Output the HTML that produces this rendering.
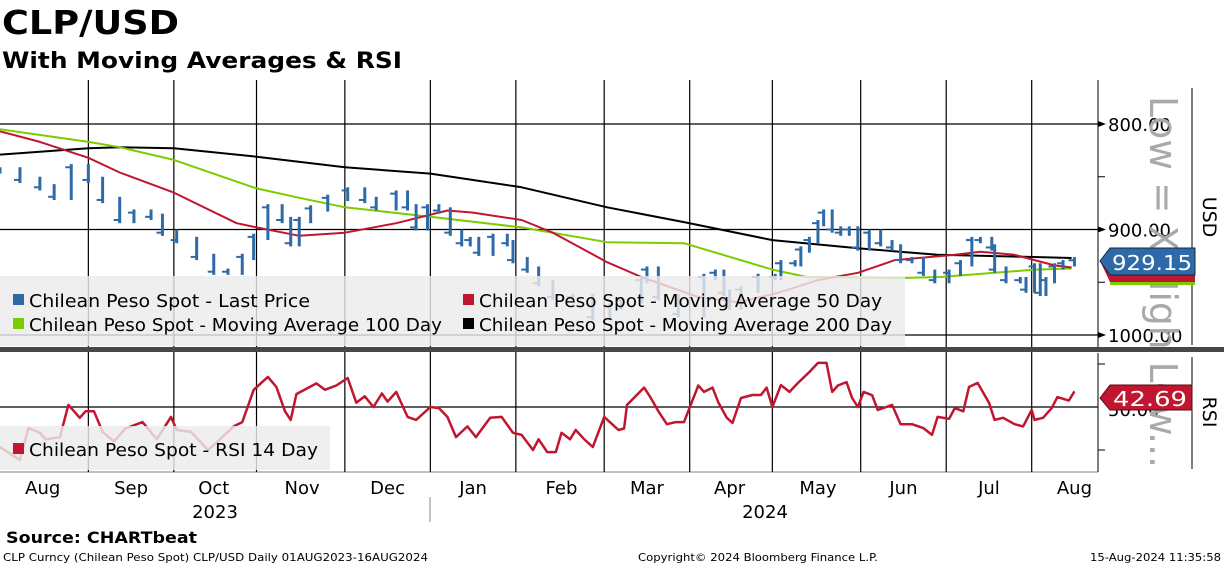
<!DOCTYPE html>
<html><head><meta charset="utf-8"><style>
html,body{margin:0;padding:0;background:#fff;}
svg{display:block;font-family:"DejaVu Sans","Liberation Sans",sans-serif;}
</style></head><body>
<svg id="chart" width="1224" height="566" viewBox="0 0 1224 566">
<text x="2" y="34" font-size="33" font-weight="bold" textLength="177" lengthAdjust="spacingAndGlyphs">CLP/USD</text>
<text x="2" y="68" font-size="22" font-weight="bold" textLength="400" lengthAdjust="spacingAndGlyphs">With Moving Averages &amp; RSI</text>
<g id="grid"></g>
<g id="series"></g>
<g id="legends">
<rect x="0" y="276" width="905" height="70" fill="rgba(236,236,236,0.82)"/>
<rect x="13" y="294" width="11" height="11" fill="#2e6aa8"/>
<text x="29" y="307" font-size="18" textLength="281" lengthAdjust="spacingAndGlyphs">Chilean Peso Spot - Last Price</text>
<rect x="463" y="294" width="11" height="11" fill="#c0162f"/>
<text x="479" y="307" font-size="18" textLength="403" lengthAdjust="spacingAndGlyphs">Chilean Peso Spot - Moving Average 50 Day</text>
<rect x="13" y="318" width="11" height="11" fill="#7ccc00"/>
<text x="29" y="331" font-size="18" textLength="413" lengthAdjust="spacingAndGlyphs">Chilean Peso Spot - Moving Average 100 Day</text>
<rect x="463" y="318" width="11" height="11" fill="#000"/>
<text x="479" y="331" font-size="18" textLength="413" lengthAdjust="spacingAndGlyphs">Chilean Peso Spot - Moving Average 200 Day</text>
<rect x="0" y="426" width="330" height="44" fill="rgba(236,236,236,0.82)"/>
<rect x="13" y="443" width="11" height="11" fill="#c0162f"/>
<text x="29" y="456" font-size="18" textLength="289" lengthAdjust="spacingAndGlyphs">Chilean Peso Spot - RSI 14 Day</text>
</g>
<rect x="0" y="347" width="1224" height="5" fill="#474747"/>
<g id="axes">
<line x1="1098" y1="80" x2="1098" y2="347" stroke="#000"/>
<line x1="1098" y1="353" x2="1098" y2="472" stroke="#000"/>
<line x1="0" y1="472" x2="1098" y2="472" stroke="#000" stroke-width="0.5"/>
<line x1="1192" y1="88" x2="1192" y2="345" stroke="#000"/>
<line x1="1192" y1="357" x2="1192" y2="469" stroke="#000"/>
<text transform="translate(1203,217) rotate(90)" font-size="19" text-anchor="middle">USD</text>
<text transform="translate(1203,412) rotate(90)" font-size="19" text-anchor="middle">RSI</text>
</g>
<g id="ylabels"></g>
<text transform="translate(1150,96) rotate(90)" font-size="38" fill="#a9a9a9" textLength="372" lengthAdjust="spacingAndGlyphs">Low = X High Low...</text>
<g id="tags">
<polygon points="1100,261 1110,275 1195,275 1195,282 1110,282" fill="#c0162f"/>
<rect x="1110" y="282" width="85" height="3" fill="#7ccc00"/>
<polygon points="1100,261 1110,248 1195,248 1195,275 1110,275" fill="#2e6aa8" stroke="#0f2a48"/>
<text x="1152" y="270" font-size="20" fill="#fff" text-anchor="middle" textLength="80" lengthAdjust="spacingAndGlyphs">929.15</text>
<polygon points="1100,398 1110,385 1192,385 1192,410 1110,410" fill="#c0162f" stroke="#5a0a14"/>
<text x="1150" y="406" font-size="20" fill="#fff" text-anchor="middle" textLength="74" lengthAdjust="spacingAndGlyphs">42.69</text>
</g>
<g id="xlabels"></g>
<text x="215" y="518" font-size="18" text-anchor="middle">2023</text>
<text x="765" y="518" font-size="18" text-anchor="middle">2024</text>
<line x1="430" y1="497" x2="430" y2="522" stroke="#888"/>
<text x="6" y="543" font-size="16" font-weight="bold" textLength="191" lengthAdjust="spacingAndGlyphs">Source: CHARTbeat</text>
<text x="3" y="561" font-size="11" textLength="425" lengthAdjust="spacingAndGlyphs">CLP Curncy (Chilean Peso Spot) CLP/USD  Daily 01AUG2023-16AUG2024</text>
<text x="638" y="561" font-size="11" textLength="240" lengthAdjust="spacingAndGlyphs">Copyright© 2024 Bloomberg Finance L.P.</text>
<text x="1090" y="561" font-size="11" textLength="131" lengthAdjust="spacingAndGlyphs">15-Aug-2024 11:35:58</text>
</svg>
<script>
const priceDays=[0,7,14,19,25,31,36,42,47,53,57,62,69,75,80,85,89,94,99,102,105,109,115,122,128,132,139,143,146,150,154,158,162,165,168,173,178,180,185,189,194,201,208,214,218,225,227,231,238,247,251,254,256,260,266,272,274,279,281,284,287,289,292,295,298,301,305,309,313,316,320,324,328,333,337,341,344,348,349,353,358,360,363,365,367,370,373,377];
const priceVals=[844,853,860,869,841,853,872,891,884,888,903,910,926,940,940,926,907,879,891,913,891,880,870,863,872,879,866,879,898,879,882,903,913,910,922,907,913,929,938,951,964,964,983,973,967,948,938,964,980,945,941,960,973,957,945,945,932,932,919,910,894,884,900,903,900,917,903,913,917,929,929,941,948,941,932,910,910,917,938,948,948,957,935,960,948,935,932,929.15];
const ma200Days=[0,31,42,61,90,121,151,183,213,240,271,302,329,361,376];
const ma200Vals=[829,823,822,823,831,841,847,860,879,893,910,918,924,926,927];
const ma100Days=[0,31,42,61,90,105,121,151,183,213,240,271,283,316,330,349,363,376];
const ma100Vals=[805,817,822,834,861,870,879,888,898,912,913,938,945,946,945,941,938,937];
const ma50Days=[0,14,31,42,61,83,90,105,121,139,157,166,183,194,213,225,245,259,273,287,301,314,335,344,356,370,376];
const ma50Vals=[807,817,832,846,865,894,898,906,903,894,882,884,891,903,931,945,964,969,960,948,941,929,924,921,924,934,936];
const rsiDays=[0,7,10,14,16,21,24,28,30,33,36,40,44,50,55,60,62,67,73,78,82,85,89,94,97,100,102,104,111,114,118,122,125,128,131,134,136,139,143,146,151,154,157,160,164,167,172,176,180,183,187,189,192,195,197,200,202,205,208,212,217,219,220,226,228,231,234,237,240,245,247,250,252,255,257,260,264,267,269,271,274,277,280,284,287,290,292,294,297,299,301,303,306,308,313,316,320,324,327,329,333,335,338,340,343,347,349,352,356,359,362,363,366,369,371,375,377];
const rsiVals=[68.6,74.6,59.8,62,65,64,49,55,52,52,61.6,66,60,57,65,54.6,60.7,61.6,70,64,59,57,42,36,40.7,52,56,44,39,42,40,36.5,48,45,50,43.7,47.5,43,54.6,56,50,50.5,54.6,64,59,64,55,54.6,62,63,70,65,71,71,62,65,60.7,65,68.6,54.6,60.7,60,49,41,45,52,58,57,57,40,43,41,47.7,55,57.4,45.8,44.4,44.4,41,50,39.8,43,38.8,33.7,29.5,29.5,43,40,38.4,45.8,50,43,44.5,51.4,49,58,58,59.8,63,54.6,55.5,50.5,52,40.7,38.8,48,56,55,58,59,51.4,56,55,50.5,45.4,47,42.69];
const gridDays=[31,61,90,121,151,181,212,242,271,302,332,362];
const monthLabels=["Aug","Sep","Oct","Nov","Dec","Jan","Feb","Mar","Apr","May","Jun","Jul","Aug"];
const monthLabelDays=[15,46,75,106,136,166,197,227,256,287,317,347,377];
const priceTicks=[800,900,1000];
const priceMinorTicks=[850,950];
const rsiTicks=[30,50,70];

const NS="http://www.w3.org/2000/svg";
const xS=d=>d*2.85;
const yP=v=>124+(v-800)*1.055;
const yR=v=>407+(v-50)*2.15;
function mk(tag,attrs,parent){const e=document.createElementNS(NS,tag);for(const k in attrs)e.setAttribute(k,attrs[k]);parent.appendChild(e);return e;}
const grid=document.getElementById('grid'),ser=document.getElementById('series'),yl=document.getElementById('ylabels'),xl=document.getElementById('xlabels');

gridDays.forEach(d=>{
  const a=mk('line',{x1:xS(d),y1:80,x2:xS(d),y2:347,stroke:'#000','stroke-width':1.2},grid);
  
  
  const b=mk('line',{x1:xS(d),y1:352,x2:xS(d),y2:472,stroke:'#000','stroke-width':1.2},grid);
  
  
});
priceTicks.forEach(v=>{
  const g=mk('line',{x1:0,y1:yP(v),x2:1098,y2:yP(v),stroke:'#000','stroke-width':1.2},grid);
  
  
  const t=mk('polygon',{points:`1098,${yP(v)-3} 1106,${yP(v)} 1098,${yP(v)+3}`,fill:'#000'},yl);
  
  
  const l=mk('text',{x:1108,y:yP(v)+7,'font-size':18},yl);
  l.textContent=v.toFixed(2);
  
  
});
priceMinorTicks.forEach(v=>{
  const t=mk('line',{x1:1098,y1:yP(v),x2:1105,y2:yP(v),stroke:'#000'},yl);
  
  
});
rsiTicks.forEach(v=>{
  if(v===50){
    const g=mk('line',{x1:0,y1:yR(v),x2:1098,y2:yR(v),stroke:'#000','stroke-width':1.2},grid);
    
    
    const l=mk('text',{x:1108,y:yR(v)+9,'font-size':18},yl);
    l.textContent=v.toFixed(2);
    
    
  } else {
    const t=mk('line',{x1:1098,y1:yR(v),x2:1105,y2:yR(v),stroke:'#000'},yl);
    
    
  }
});
monthLabels.forEach((m,i)=>{
  const t=mk('text',{x:xS(monthLabelDays[i]),y:494,'font-size':18,'text-anchor':'middle'},xl);
  t.textContent=m;
  
  
});
function line(days,vals,yf,color,w,name){
  const d=days.map((dd,i)=>(i?'L':'M')+xS(dd).toFixed(1)+','+yf(vals[i]).toFixed(1)).join('');
  const p=mk('path',{d:d,fill:'none',stroke:color,'stroke-width':w,'stroke-linejoin':'round'},ser);
  
  
}
line(ma200Days,ma200Vals,yP,'#000',2,'ma200-line');
line(ma100Days,ma100Vals,yP,'#7ccc00',2,'ma100-line');
line(ma50Days,ma50Vals,yP,'#c0162f',2,'ma50-line');
priceDays.forEach((d,i)=>{
  const prev=i?priceVals[i-1]:priceVals[i];
  const hi=Math.max(prev,priceVals[i])+3,lo=Math.min(prev,priceVals[i])-3;
  const x=xS(d);
  const r=mk('rect',{x:x-1.5,y:yP(Math.min(hi,lo)),width:3,height:Math.abs(yP(hi)-yP(lo)),fill:'#2e6aa8'},ser);
  
  
  if(i){
    const m=mk('rect',{x:x-6,y:yP(priceVals[i])-1,width:5,height:2,fill:'#2e6aa8'},ser);
    
    
  }
});
line(rsiDays,rsiVals,yR,'#c0162f',2.5,'rsi-line');
</script>
</body></html>
